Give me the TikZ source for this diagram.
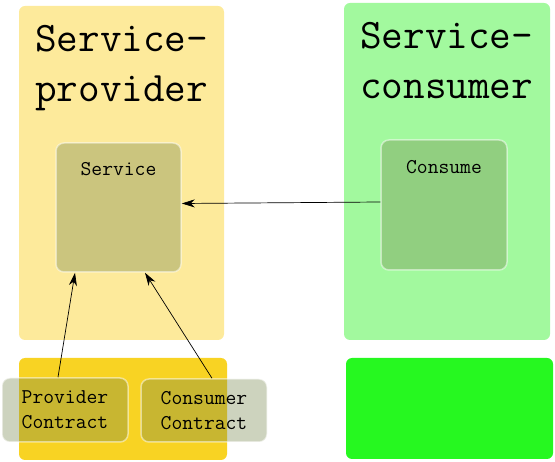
\documentclass[tikz,border=0pt]{standalone}
\usepackage{fontspec}
\usetikzlibrary{arrows.meta}
\usetikzlibrary{calc}
\definecolor{providerbg}{RGB}{253,234,155}
\definecolor{consumerbg}{RGB}{162,249,158}
\definecolor{contractyellow}{RGB}{248,211,35}
\definecolor{contractgreen}{RGB}{38,248,32}
\definecolor{partolive}{RGB}{117,133,75}
\tikzset{
	area/.style={rectangle, rounded corners=6pt, inner sep=0pt},
	part/.style={rectangle, rounded corners=8pt, inner sep=0pt, fill=partolive, fill opacity=0.36,
		text opacity=1, draw=white, draw opacity=0.5, line width=1.5pt,
		font=\ttfamily\fontsize{21}{25}\selectfont, align=left},
	title/.style={anchor=north west, inner sep=0pt, align=left, font=\ttfamily\fontsize{42}{50}\selectfont},
	link/.style={-{Stealth[length=13pt,width=8pt,inset=4pt]}, line width=0.7pt}
}
\begin{document}
\begin{tikzpicture}[x=1pt,y=-1pt]
	% page: 555 x 462, y grows downwards
	\useasboundingbox (0,0) rectangle (555,462);
	
	% the two sides
	\node[area, fill=providerbg, minimum width=205pt, minimum height=334pt] (provider) at (121.5,173) {};
	\node[area, fill=consumerbg, minimum width=206pt, minimum height=337pt] (consumer) at (447,171.5) {};
	\node[title] (providertitle) at (35,25) {Service-\\provider};
	\node[title] (consumertitle) at (360,22) {Service-\\consumer};
	
	% contract areas
	\node[area, fill=contractyellow, minimum width=208pt, minimum height=102pt] (contracts) at (123,409) {};
	\node[area, fill=contractgreen, minimum width=207pt, minimum height=101pt] (consumercontracts) at (449.5,408.5) {};
	
	% parts
	\node[part, minimum width=125pt, minimum height=129pt,
		label={[anchor=north, inner sep=0pt, yshift=-20pt, font=\ttfamily\fontsize{21}{25}\selectfont]north:Service}] (service) at (118.5,207.5) {};
	\node[part, minimum width=126pt, minimum height=130pt,
		label={[anchor=north, inner sep=0pt, yshift=-21pt, font=\ttfamily\fontsize{21}{25}\selectfont]north:Consume}] (consume) at (444,205) {};
	\node[part, minimum width=126pt, minimum height=64pt] (providercontract) at (65,410) {Provider\\Contract};
	\node[part, minimum width=126pt, minimum height=63pt] (consumercontract) at (204,410.5) {Consumer\\Contract};
	
	% links
	\draw[link] ([yshift=3pt]consume.west) -- ([yshift=4pt]service.east);
	\draw[link] ([xshift=-7pt]providercontract.north) -- ([xshift=-43.5pt]service.south);
	\draw[link] ([xshift=8pt]consumercontract.north) -- ([xshift=26.5pt]service.south);
\end{tikzpicture}
\end{document}
